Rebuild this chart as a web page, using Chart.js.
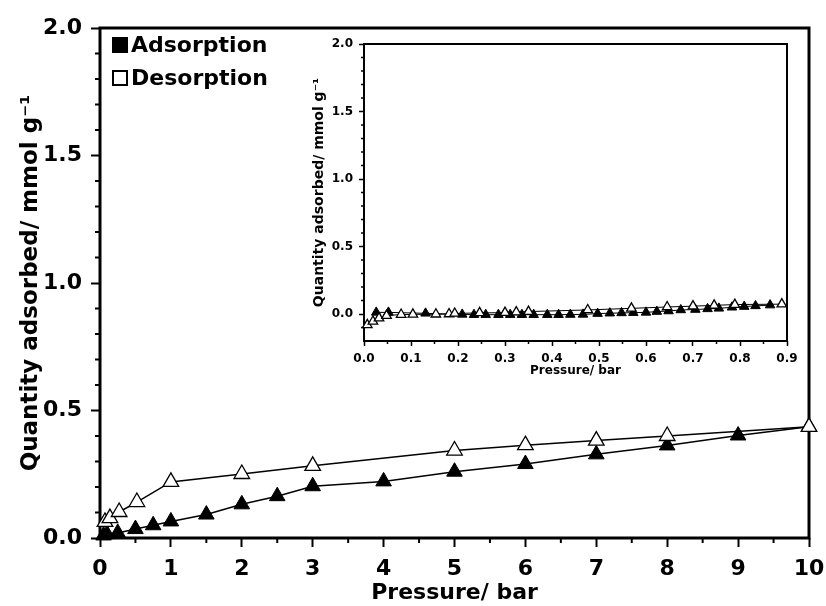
<!DOCTYPE html>
<html><head><meta charset="utf-8">
<script src="https://cdn.jsdelivr.net/npm/chart.js@4.4.1/dist/chart.umd.min.js"></script>
<style>
html,body{margin:0;padding:0;background:#fff;}
#wrap{position:relative;width:826px;height:606px;background:#fff;}
#main{position:absolute;left:0;top:0;width:826px;height:606px;}
#inset{position:absolute;left:300px;top:10px;width:500px;height:380px;}
</style></head><body>
<div id="wrap"><canvas id="main" width="826" height="606"></canvas><canvas id="inset" width="500" height="380"></canvas></div>
<script>
// ---- data ----
const seriesNames = ['Adsorption', 'Desorption'];

// main chart (0-10 bar)
const mainAdsP = [0.05, 0.1, 0.25, 0.5, 0.75, 1, 1.5, 2, 2.5, 3, 4, 5, 6, 7, 8, 9, 10];
const mainAdsQ = [0.01, 0.015, 0.02, 0.035, 0.05, 0.065, 0.092, 0.132, 0.164, 0.203, 0.222, 0.26, 0.29, 0.328, 0.363, 0.402, 0.436];
const mainDesP = [0.07, 0.14, 0.27, 0.52, 1, 2, 3, 5, 6, 7, 8, 10];
const mainDesQ = [0.063, 0.078, 0.102, 0.141, 0.22, 0.251, 0.283, 0.343, 0.364, 0.382, 0.40, 0.436];

// inset chart (0-0.9 bar)
const insetAdsP = [0.026, 0.052, 0.131, 0.209, 0.234, 0.259, 0.286, 0.311, 0.336, 0.361, 0.39, 0.414, 0.439, 0.466, 0.497, 0.523, 0.548, 0.573, 0.6, 0.623, 0.648, 0.674, 0.705, 0.731, 0.755, 0.783, 0.809, 0.833, 0.864];
const insetAdsQ = [0.012, 0.012, 0.005, -0.003, -0.005, -0.005, -0.005, -0.005, -0.005, -0.005, -0.005, -0.005, -0.004, -0.003, 0.003, 0.006, 0.008, 0.01, 0.012, 0.018, 0.022, 0.03, 0.033, 0.038, 0.042, 0.05, 0.055, 0.06, 0.066];
const insetDesP = [0.007, 0.019, 0.032, 0.048, 0.079, 0.104, 0.153, 0.181, 0.193, 0.246, 0.30, 0.324, 0.35, 0.476, 0.569, 0.645, 0.70, 0.745, 0.789, 0.889];
const insetDesQ = [-0.08, -0.055, -0.03, -0.012, -0.004, -0.003, -0.002, 0.0, 0.004, 0.008, 0.01, 0.014, 0.018, 0.03, 0.042, 0.052, 0.058, 0.064, 0.07, 0.073];

// tick labels
const mainXTicks = [0, 1, 2, 3, 4, 5, 6, 7, 8, 9, 10];
const mainYTicks = [0, 0.5, 1.0, 1.5, 2.0];
const insetXTicks = [0, 0.1, 0.2, 0.3, 0.4, 0.5, 0.6, 0.7, 0.8, 0.9];
const insetYTicks = [0, 0.5, 1.0, 1.5, 2.0];

const xTitle = 'Pressure/ bar';
const yTitle = 'Quantity adsorbed/ mmol g\u207B\u00B9';

// ---- helpers ----
const FONT = 'DejaVu Sans';
Chart.defaults.font.family = FONT;
Chart.defaults.color = '#000';

function pts(xs, ys) { return xs.map((x, i) => ({x: x, y: ys[i]})); }
function range(a, b, step) { const r = []; for (let v = a; v <= b + 1e-9; v += step) r.push(+v.toFixed(4)); return r; }
function zeroPad(s) { s.paddingLeft = 0; s.paddingRight = 0; s.paddingTop = 0; s.paddingBottom = 0; }

function framePlugin(opts) {
  return {
    id: 'frame',
    beforeDatasetsDraw(chart) {
      const {ctx, chartArea: a} = chart;
      const xs = chart.scales.x, ys = chart.scales.y;
      ctx.save();
      ctx.strokeStyle = '#000';
      ctx.lineWidth = opts.tickWidth;
      opts.minorX.forEach(v => {
        const px = xs.getPixelForValue(v);
        ctx.beginPath(); ctx.moveTo(px, a.bottom); ctx.lineTo(px, a.bottom + opts.minorLen); ctx.stroke();
      });
      opts.minorY.forEach(v => {
        const py = ys.getPixelForValue(v);
        ctx.beginPath(); ctx.moveTo(a.left, py); ctx.lineTo(a.left - opts.minorLen, py); ctx.stroke();
      });
      ctx.lineWidth = opts.frameWidth;
      ctx.strokeRect(a.left, a.top, a.right - a.left, a.bottom - a.top);
      ctx.restore();
    }
  };
}

const legendPlugin = {
  id: 'boxLegend',
  afterDraw(chart) {
    const {ctx, chartArea: a} = chart;
    ctx.save();
    ctx.font = 'bold 22px "' + FONT + '"';
    ctx.textBaseline = 'middle';
    ctx.fillStyle = '#000';
    seriesNames.forEach((name, i) => {
      const cy = a.top + 17 + i * 33;
      const bx = a.left + 12, s = 16;
      ctx.lineWidth = 2;
      if (i === 0) { ctx.fillRect(bx, cy - s / 2, s, s); }
      else { ctx.strokeRect(bx + 1, cy - s / 2 + 1, s - 2, s - 2); }
      ctx.fillText(name, bx + s + 3, cy + 1);
    });
    ctx.restore();
  }
};

function makeOptions(cfg) {
  return {
    responsive: false,
    animation: false,
    layout: {padding: cfg.padding},
    plugins: {legend: {display: false}, tooltip: {enabled: false}},
    scales: {
      x: {
        type: 'linear', min: cfg.xmin, max: cfg.xmax,
        afterBuildTicks: s => { s.ticks = cfg.xTicks.map(v => ({value: v})); },
        afterFit: s => { s.height = cfg.xHeight; zeroPad(s); },
        grid: {display: true, drawOnChartArea: false, drawTicks: true, tickLength: cfg.tickLen, tickWidth: cfg.tickWidth, tickColor: '#000'},
        border: {display: false},
        ticks: {padding: cfg.xPad, color: '#000', font: {family: FONT, weight: 'bold', size: cfg.tickFont}, maxRotation: 0,
                callback: v => v.toFixed(cfg.xDec)},
        title: {display: true, text: xTitle, color: '#000', font: {family: FONT, weight: 'bold', size: cfg.xTitleFont}, padding: {top: 0, bottom: cfg.xTitlePad}}
      },
      y: {
        type: 'linear', min: cfg.ymin, max: cfg.ymax,
        afterBuildTicks: s => { s.ticks = cfg.yTicks.map(v => ({value: v})); },
        afterFit: s => { s.width = cfg.yWidth; zeroPad(s); },
        grid: {display: true, drawOnChartArea: false, drawTicks: true, tickLength: cfg.tickLen, tickWidth: cfg.tickWidth, tickColor: '#000'},
        border: {display: false},
        ticks: {padding: cfg.yPad, color: '#000', font: {family: FONT, weight: 'bold', size: cfg.tickFont},
                callback: v => v.toFixed(1)},
        title: {display: true, text: yTitle, color: '#000', font: {family: FONT, weight: 'bold', size: cfg.yTitleFont}, padding: {top: cfg.yTitlePad, bottom: 0}}
      }
    }
  };
}

function datasets(adsP, adsQ, desP, desQ, r, lw) {
  return [
    {label: seriesNames[0], data: pts(adsP, adsQ), showLine: true, borderColor: '#000', borderWidth: lw,
     pointStyle: 'triangle', pointRadius: r, pointBackgroundColor: '#000', pointBorderColor: '#000', pointBorderWidth: 1,
     clip: false, order: 1},
    {label: seriesNames[1], data: pts(desP, desQ), showLine: true, borderColor: '#000', borderWidth: lw,
     pointStyle: 'triangle', pointRadius: r, pointBackgroundColor: '#fff', pointBorderColor: '#000', pointBorderWidth: 1.3,
     clip: false, order: 0}
  ];
}

// ---- main chart ----
new Chart(document.getElementById('main'), {
  type: 'scatter',
  data: {datasets: datasets(mainAdsP, mainAdsQ, mainDesP, mainDesQ, 9, 1.5)},
  options: makeOptions({
    padding: {top: 28, right: 17, left: 0, bottom: 0},
    xmin: 0, xmax: 10, ymin: 0, ymax: 2,
    xTicks: mainXTicks, yTicks: mainYTicks,
    xHeight: 68, yWidth: 100, tickLen: 9, tickWidth: 2,
    xPad: 9, yPad: 9, tickFont: 22, xDec: 0,
    xTitleFont: 22, xTitlePad: 0, yTitleFont: 23, yTitlePad: 17
  }),
  plugins: [framePlugin({minorX: range(0.5, 9.5, 1), minorY: range(0.1, 1.9, 0.1).filter(v => Math.abs(v * 2 - Math.round(v * 2)) > 1e-6), minorLen: 5, tickWidth: 2, frameWidth: 3}), legendPlugin]
});

// ---- inset chart ----
new Chart(document.getElementById('inset'), {
  type: 'scatter',
  data: {datasets: datasets(insetAdsP, insetAdsQ, insetDesP, insetDesQ, 5.5, 1)},
  options: makeOptions({
    padding: {top: 34, right: 13, left: 0, bottom: 0},
    xmin: 0, xmax: 0.9, ymin: -0.2, ymax: 2,
    xTicks: insetXTicks, yTicks: insetYTicks,
    xHeight: 49, yWidth: 64, tickLen: 5, tickWidth: 1.5,
    xPad: 6, yPad: 6, tickFont: 12, xDec: 1,
    xTitleFont: 12, xTitlePad: 12, yTitleFont: 14, yTitlePad: 11
  }),
  plugins: [framePlugin({minorX: range(0.05, 0.85, 0.1), minorY: [-0.1].concat(range(0.1, 1.9, 0.1).filter(v => Math.abs(v * 2 - Math.round(v * 2)) > 1e-6)), minorLen: 3, tickWidth: 1.5, frameWidth: 2})]
});
</script>
</body></html>
